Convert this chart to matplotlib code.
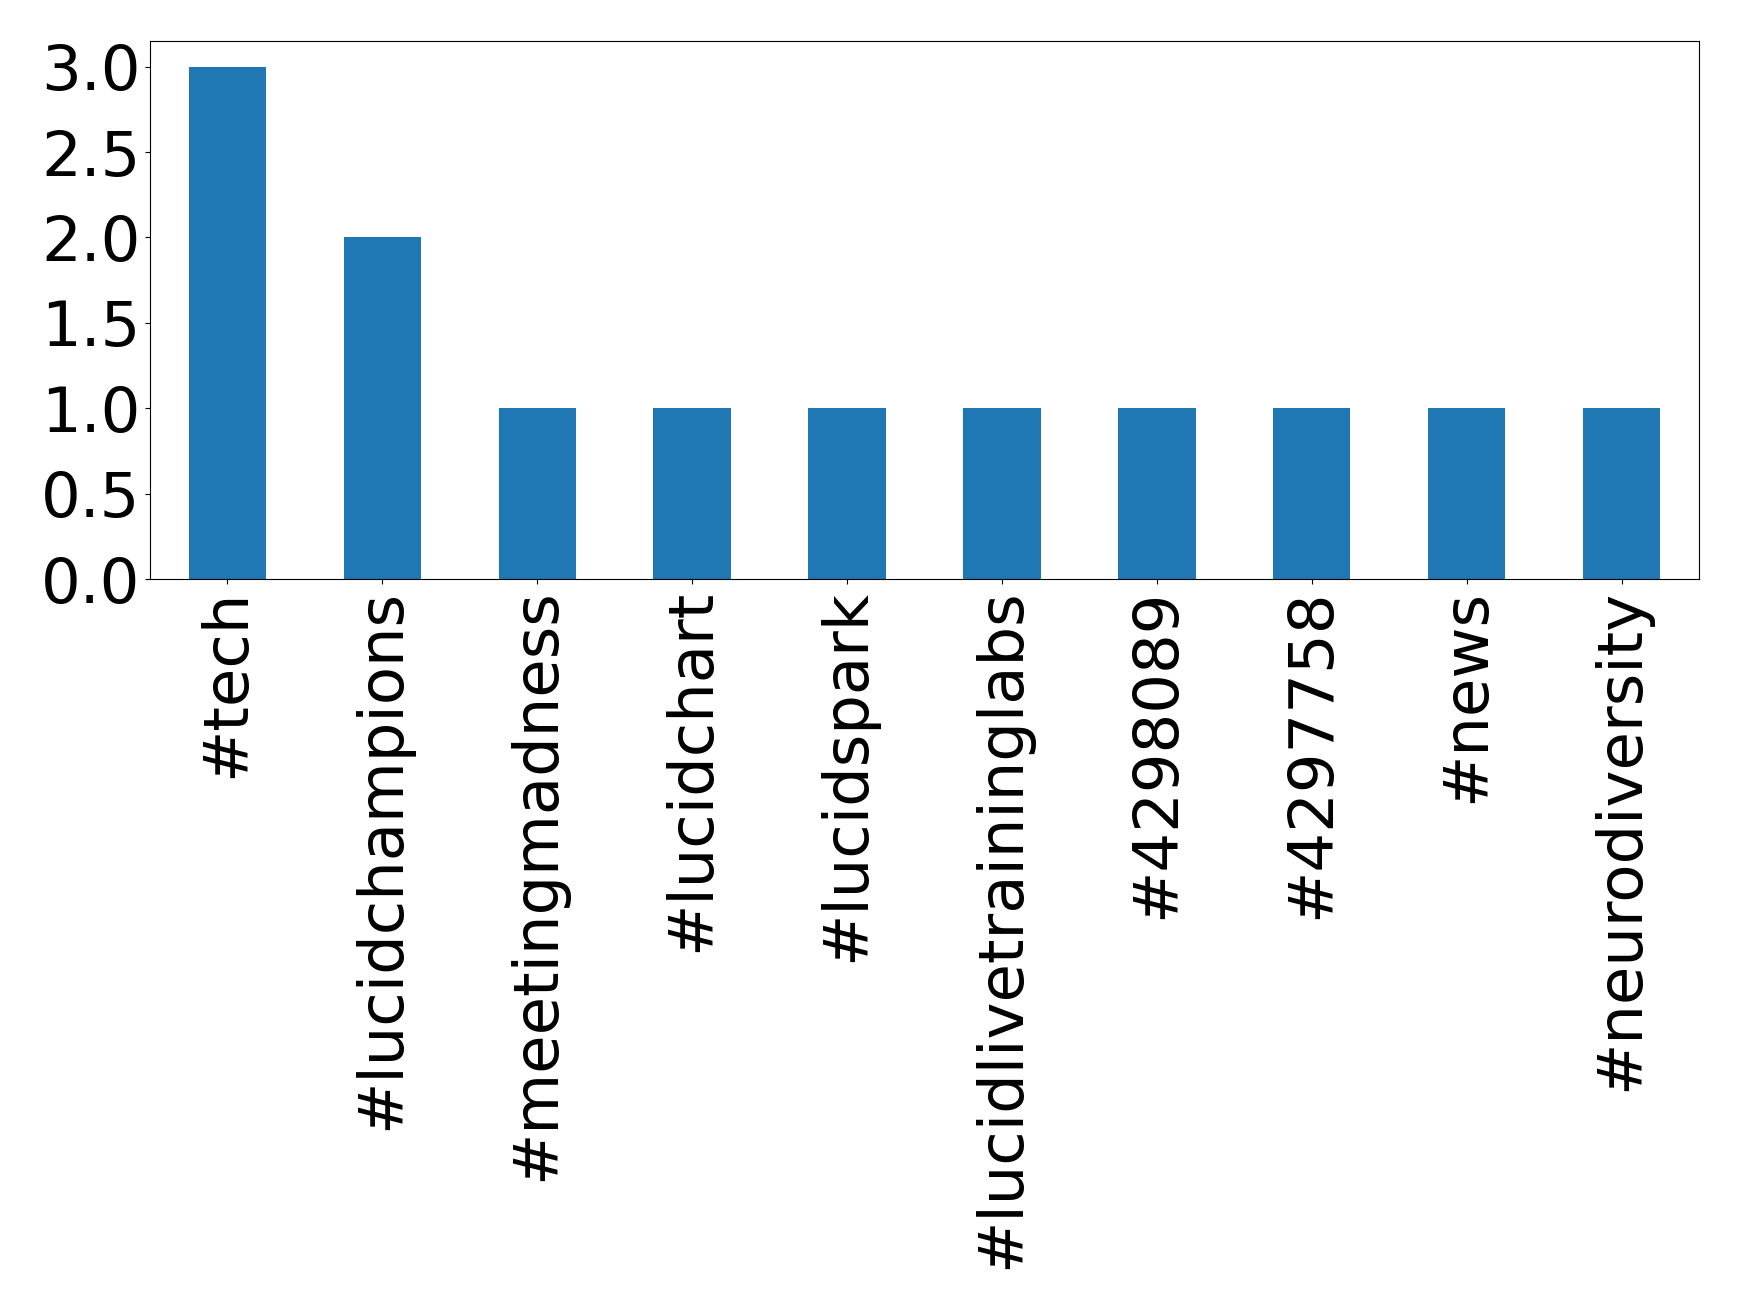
import matplotlib
matplotlib.use('Agg')
import matplotlib.pyplot as plt
import pandas as pd
import numpy as np

# Hashtag counts
hashtags = ['#tech', '#lucidchampions', '#meetingmadness', '#lucidchart',
            '#lucidspark', '#lucidlivetraininglabs', '#4298089', '#4297758',
            '#news', '#neurodiversity']
counts = [3, 2, 1, 1, 1, 1, 1, 1, 1, 1]
yticks = [0.0, 0.5, 1.0, 1.5, 2.0, 2.5, 3.0]

s = pd.Series(counts, index=hashtags)

fig = plt.figure(figsize=(17.39, 13.09), dpi=100)
ax = fig.add_axes([150 / 1739, 1 - 579 / 1309, (1699 - 150) / 1739, (579 - 41) / 1309])
s.plot(kind='bar', ax=ax, color='#1f77b4')
ax.set_yticks(yticks)
ax.set_yticklabels(['%.1f' % v for v in yticks])
ax.tick_params(axis='both', labelsize=45)

fig.savefig('out.png', dpi=100)
